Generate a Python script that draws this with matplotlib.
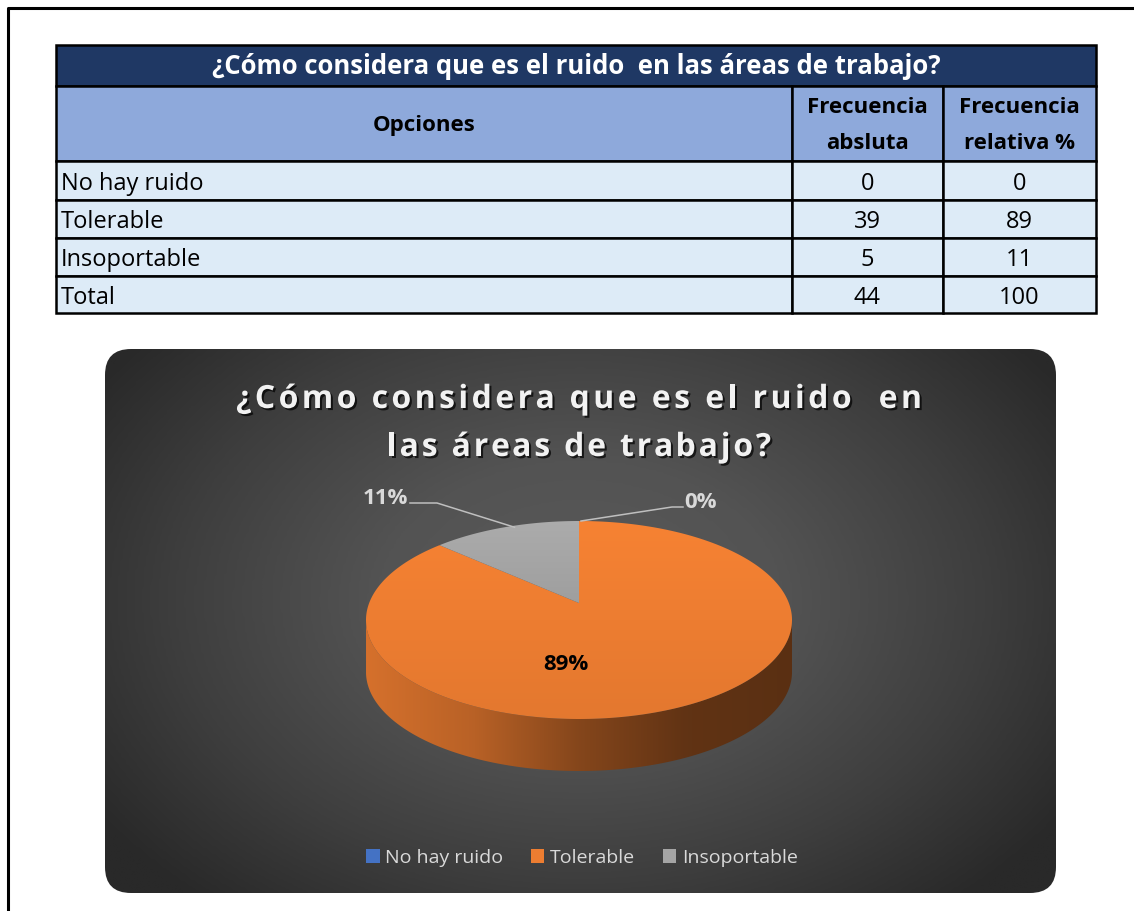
import numpy as np
import matplotlib.pyplot as plt
import matplotlib.patheffects as pe
from matplotlib.patches import Rectangle, FancyBboxPatch, Polygon, Patch
from matplotlib.colors import LinearSegmentedColormap, to_rgb

plt.rcParams['font.family'] = ['Open Sans', 'DejaVu Sans']

# Datos de la encuesta
titulo = "¿Cómo considera que es el ruido  en las áreas de trabajo?"
titulo_l1 = "¿Cómo considera que es el ruido  en"
titulo_l2 = "las áreas de trabajo?"
opciones = ["No hay ruido", "Tolerable", "Insoportable"]
frec_abs = [0, 39, 5]
frec_rel = [0, 89, 11]
colores = ["#4472C4", "#ED7D31", "#A5A5A5"]

W, H = 1134, 911
fig = plt.figure(figsize=(W / 100, H / 100), dpi=100)
ax = fig.add_axes([0, 0, 1, 1])
ax.set_xlim(0, W)
ax.set_ylim(H, 0)
ax.axis("off")
renderer = fig.canvas.get_renderer()


def ancho(s, **kw):
    t = ax.text(0, 0, s, **kw)
    w = t.get_window_extent(renderer).width
    t.remove()
    return w


def texto_espaciado(x, y, s, ancho_total, **kw):
    base = ancho("|", **kw)
    pos = [ancho(s[:i] + "|", **kw) - base for i in range(len(s))]
    natural = ancho(s, **kw)
    extra = (ancho_total - natural) / (len(s) - 1)
    x0 = x - (natural + extra * (len(s) - 1)) / 2
    for i, ch in enumerate(s):
        if ch.strip():
            ax.text(x0 + pos[i] + extra * i, y, ch, ha="left", va="baseline", **kw)


# marco de la hoja
ax.plot([7.5, 7.5, W], [H, 7.5, 7.5], color="black", lw=2.2, solid_capstyle="butt")

# ---------------- tabla ----------------
xs = [56, 792, 943, 1096]
ys = [45, 86, 161, 200, 238, 276, 313]
borde = dict(edgecolor="black", lw=1.8)

ax.add_patch(Rectangle((xs[0], ys[0]), xs[3] - xs[0], ys[1] - ys[0], facecolor="#1F3864", **borde))
ax.text((xs[0] + xs[3]) / 2, (ys[0] + ys[1]) / 2 + 1, titulo, color="white",
        fontsize=18.5, fontweight="bold", ha="center", va="center")

for j in range(3):
    ax.add_patch(Rectangle((xs[j], ys[1]), xs[j + 1] - xs[j], ys[2] - ys[1], facecolor="#8EA9DB", **borde))
encabezados = ["Opciones", "Frecuencia\nabsluta", "Frecuencia\nrelativa %"]
for j, enc in enumerate(encabezados):
    ax.text((xs[j] + xs[j + 1]) / 2, (ys[1] + ys[2]) / 2 + 2, enc, color="black",
            fontsize=16, fontweight="bold", ha="center", va="center", linespacing=1.95)

filas = list(zip(opciones, frec_abs, frec_rel)) + [("Total", sum(frec_abs), sum(frec_rel))]
for i, (nombre, fa, fr) in enumerate(filas):
    y0, y1 = ys[i + 2], ys[i + 3]
    for j in range(3):
        ax.add_patch(Rectangle((xs[j], y0), xs[j + 1] - xs[j], y1 - y0, facecolor="#DDEBF7", **borde))
    yc = (y0 + y1) / 2 + 3
    ax.text(xs[0] + 5, yc, nombre, fontsize=17, ha="left", va="center")
    ax.text((xs[1] + xs[2]) / 2, yc, str(fa), fontsize=17, ha="center", va="center")
    ax.text((xs[2] + xs[3]) / 2, yc, str(fr), fontsize=17, ha="center", va="center")

# ---------------- área del gráfico ----------------
bx0, by0, bx1, by1 = 105, 349, 1056, 893
caja = FancyBboxPatch((bx0, by0), bx1 - bx0, by1 - by0,
                      boxstyle="round,pad=0,rounding_size=26",
                      facecolor="none", edgecolor="none")
ax.add_patch(caja)
gx, gy = np.meshgrid(np.linspace(bx0, bx1, 400), np.linspace(by0, by1, 240))
d = np.clip(np.sqrt(((gx - 580) / 580) ** 2 + ((gy - 600) / 400) ** 2), 0, 1)
fondo = LinearSegmentedColormap.from_list(
    "fondo", [(0, "#5A5A5A"), (0.35, "#535353"), (0.7, "#3E3E3E"), (1, "#292929")])
img = ax.imshow(d, cmap=fondo, vmin=0, vmax=1, extent=[bx0, bx1, by1, by0],
                interpolation="bilinear", zorder=1, aspect="auto")
img.set_clip_path(caja)

sombra = [pe.withSimplePatchShadow(offset=(1.5, -1.5), shadow_rgbFace="black", alpha=0.7)]
estilo_titulo = dict(fontsize=23, fontweight="bold", color="#F2F2F2", zorder=5)
texto_espaciado(579, 408, titulo_l1, 686, path_effects=sombra, **estilo_titulo)
texto_espaciado(579, 456, titulo_l2, 384, path_effects=sombra, **estilo_titulo)

# ---------------- pastel 3D ----------------
cx, cy, rx, ry, prof = 579, 620, 213, 99, 52
apice = (cx, cy - 17)
total = sum(frec_abs)


def elipse(a):
    a = np.radians(a)
    return cx + rx * np.cos(a), cy - ry * np.sin(a)


def escalar(c, f):
    return tuple(min(1, v * f) for v in to_rgb(c))


def relleno_degradado(poli, cols, horizontal=True, z=3):
    xmin, ymin = poli.min(axis=0)
    xmax, ymax = poli.max(axis=0)
    cm = LinearSegmentedColormap.from_list("g", cols)
    g = np.linspace(0, 1, 256)
    datos = g[None, :] if horizontal else g[:, None]
    parche = Polygon(poli, closed=True, facecolor="none", edgecolor="none", zorder=z)
    ax.add_patch(parche)
    im = ax.imshow(datos, cmap=cm, extent=[xmin, xmax, ymax, ymin],
                   aspect="auto", interpolation="bilinear", zorder=z)
    im.set_clip_path(parche)


rangos = []
inicio = 90.0
for v in frec_abs:
    barrido = 360.0 * v / total
    rangos.append((inicio - barrido, inicio))
    inicio -= barrido

# caras laterales (solo la mitad frontal es visible)
for (a1, a0), v, c in zip(rangos, frec_abs, colores):
    if v == 0:
        continue
    t = np.linspace(a1, a0, 600)
    t = t[np.sin(np.radians(t)) < 0]
    if len(t) < 2:
        continue
    px, py = elipse(t)
    arriba = np.column_stack([px, py])
    abajo = np.column_stack([px, py + prof])[::-1]
    poli = np.vstack([arriba, abajo])
    relleno_degradado(poli, [escalar(c, 0.9), escalar(c, 0.78), escalar(c, 0.56),
                             escalar(c, 0.41), escalar(c, 0.38)], z=3)

# caras superiores
for (a1, a0), v, c in zip(rangos, frec_abs, colores):
    if v == 0:
        continue
    t = np.linspace(a0, a1, 600)
    px, py = elipse(t)
    poli = np.vstack([[apice], np.column_stack([px, py])])
    relleno_degradado(poli, [escalar(c, 1.04), escalar(c, 1.0), escalar(c, 0.96)], horizontal=False, z=4)

# etiquetas de datos
pct = [round(100 * v / total) for v in frec_abs]
estilo_etq = dict(fontsize=16, fontweight="bold", zorder=6)
medio = [(a1 + a0) / 2 for a1, a0 in rangos]

# 0 % (No hay ruido) a la derecha
mx, my = elipse(medio[0])
ax.plot([mx + 2, 672, 683], [my, 507, 507], color="#BFBFBF", lw=1.1, zorder=6)
ax.text(684, 503, f"{pct[0]}%", color="#D9D9D9", ha="left", va="center", **estilo_etq)

# 11 % (Insoportable) a la izquierda
mx, my = elipse(medio[2])
ax.plot([mx + 10, 437, 410], [my, 503, 503], color="#BFBFBF", lw=1.1, zorder=6)
ax.text(408, 498, f"{pct[2]}%", color="#D9D9D9", ha="right", va="center", **estilo_etq)

ax.text(566, 664, f"{pct[1]}%", color="black", ha="center", va="center", **estilo_etq)

# leyenda
manejadores = [Patch(facecolor=c, edgecolor="none") for c in colores]
ley = ax.legend(manejadores, opciones, loc="center", bbox_to_anchor=(582 / W, 1 - 858 / H),
                ncol=3, frameon=False, fontsize=14, labelcolor="#D9D9D9",
                handlelength=0.7, handleheight=0.7, handletextpad=0.3, columnspacing=1.4)
ley.set_zorder(6)

fig.savefig("out.png", dpi=100, facecolor="white")
